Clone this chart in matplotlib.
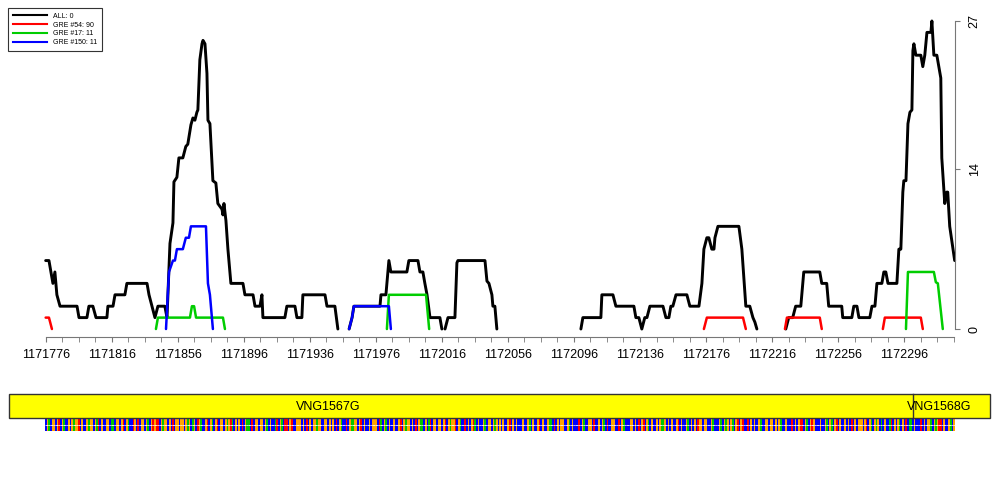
import numpy as np
import matplotlib
matplotlib.use('Agg')
import matplotlib.pyplot as plt
from matplotlib.colors import to_rgb
from matplotlib.lines import Line2D
from matplotlib.patches import Rectangle

plt.rcParams['font.family'] = ['Liberation Sans', 'DejaVu Sans']

# genomic window (bp)
START = 1171776
END = 1172326

# curves: segments of (offset from START, count)
all_pos = [
    [0, 2, 4.4, 5.6, 6.8, 8.7, 19, 20.2, 25, 26.2, 28.6, 30.5, 37.1, 37.7, 40.8, 42, 48, 49.2,
     61.4, 62.6, 64.4, 66.2, 68, 72.2, 73.5, 75.3, 77.1, 77.7, 79.5, 80.7, 83.1, 84.9, 86.1,
     88, 89.2, 90.4, 91.6, 92.2, 93.4, 94.7, 95.3, 96.5, 97.7, 98.3, 99.5, 101.3, 103.1, 104.3,
     106.8, 107.4, 108, 109.2, 110.4, 112.2, 119.5, 120.7, 125.6, 126.8, 129.8, 131, 131.6,
     144.9, 146.1, 151, 152.2, 155.2, 155.8, 169.2, 170.4, 175.2, 177],
    [183.8, 185.6, 186.7, 202.5, 203.1, 206.1, 207.3, 207.9, 209.1, 218.8, 220, 225.5, 226.7,
     228.5, 229.7, 231, 232.8, 238.8, 240],
    [241.9, 243.7, 247.9, 249.1, 249.7, 266.1, 267.3, 268.5, 270.3, 270.9, 272.1, 273.3],
    [324.2, 325.4, 336.3, 336.9, 343.6, 345.4, 356.3, 357.5, 359.3, 361.1, 362.9, 364.2, 366,
     373.9, 375.7, 377.5, 378.7, 379.9, 381.8, 388.4, 390.2, 395.7, 397.5, 398.7, 400.5, 401.7,
     403.5, 404.8, 405.4, 407.2, 419.9, 421.7, 424.1, 426.5, 428.4, 429.6, 430.8],
    [448.3, 450.1, 452.5, 454.3, 457.4, 459.2, 468.9, 470.1, 473.1, 474.3, 482.2, 482.8, 488.3,
     489.5, 491.4, 492.6, 499.2, 500.5, 502.3, 503.5, 506.5, 507.7, 508.9, 510.2, 515.6, 516.8,
     518, 519.2, 519.8, 521.1, 522.3, 523.5, 524.7, 525.3, 525.9, 527.1, 530.1, 531.3, 532.5,
     533.8, 536.2, 536.8, 538, 539.8, 542.2, 542.8, 544.6, 545.8, 546.4, 547.6, 550.6],
]
all_val = [
    [6, 6, 4, 5, 3, 2, 2, 1, 1, 2, 2, 1, 1, 2, 2, 3, 3, 4,
     4, 3, 2, 1, 2, 2, 1, 7.5, 9.3, 12.9, 13.3, 15, 15, 16, 16.2,
     17.9, 18.5, 18.3, 19, 19.2, 23.6, 25, 25.3, 25, 22.4, 18.3, 18, 13, 12.8, 11,
     10.5, 10, 11, 9.5, 7, 4, 4, 3, 3, 2, 2, 3, 1,
     1, 2, 2, 1, 1, 3, 3, 2, 2, 0],
    [0, 1, 2, 2, 3, 3, 5, 6, 5, 5, 6, 6, 5, 5, 4, 3, 1, 1, 0],
    [0, 1, 1, 5.8, 6, 6, 4.2, 4, 3, 2, 2, 0],
    [0, 1, 1, 3, 3, 2, 2, 1, 1, 0, 1, 1, 2,
     2, 1, 1, 2, 2, 3, 3, 2, 2, 4, 7, 8, 8,
     7, 7, 8, 9, 9, 7, 2, 2, 1, 0.6, 0],
    [0, 1, 1, 2, 2, 5, 5, 4, 4, 2, 2, 1, 1,
     2, 2, 1, 1, 2, 2, 4, 4, 5, 5, 4, 4, 7,
     7, 12, 13, 13, 18, 19, 19.2, 24.4, 25, 24, 24, 23, 24,
     26, 26, 27, 24, 24, 22, 15, 11, 12, 12, 9, 6],
]

gre54_pos = [[0, 2, 3.8], [398.7, 400.5, 422.4, 424.1], [447.8, 449, 468.9, 470.1],
             [507.1, 508.3, 530.1, 531.3]]
gre54_val = [[1, 1, 0], [0, 1, 1, 0], [0, 1, 1, 0], [0, 1, 1, 0]]

gre17_pos = [[66.8, 68, 87.4, 88.6, 89.9, 91.1, 107.4, 108.6],
             [206.7, 207.9, 230.4, 232.3],
             [521.1, 522.3, 523.5, 538, 539.2, 540.4, 543.4]]
gre17_val = [[0, 1, 1, 2, 2, 1, 1, 0], [0, 3, 3, 0], [0, 5, 5, 5, 4.1, 4, 0]]

gre150_pos = [[72.9, 74.7, 77.1, 78.3, 79.5, 83.1, 84.9, 86.8, 88, 97.1, 98.3, 99.5, 101.3],
              [183.8, 185.6, 186.7, 207.9, 209.1]]
gre150_val = [[0, 5, 6, 6, 7, 7, 8, 8, 9, 9, 4, 3, 0], [0, 1, 2, 2, 0]]

legend_labels = ['ALL: 0', 'GRE #54: 90', 'GRE #17: 11', 'GRE #150: 11']
y_ticks = [0, 14, 27]

# genes
gene_names = ['VNG1567G', 'VNG1568G']
gene_label_pos = [171, 541]
gene_boundary = 525.3

seq = ("CGACGGCGTCGACCGCGAGGTCGCCGAGGCGATCGCCGGCAACGGCGTCG"
       "ACCTGCTCGGCGACGTGTTCGAGGCGCTCGGCGGCGAGCAGCTGACCGTC"
       "GACGTCGGCGAGTACGCGCTCGAACTCGGCGGCGACGCCATCGACTTCGT"
       "CCGGGCGCTCGCGGAGGCCGGCGCGCTCGACCTCGAAGGCGTCGCCGCGG"
       "GCTACGACGCCGCCGTCGAGGCGCTCGAACGCATCGGCGGCGTCGAGGTC"
       "GACCTCGCGTACGCCGACGGCGAGCGCGCCGTCGCGCCCGCCGACGCCGT"
       "CGCCGAACTCGCGGCCGACGCCCTCGACCGGCTCCGCGACTCCGGCCTCG"
       "ACCCGGCGCTCGTCGACGCCGCGAAGCGCGCCGTCGCCGACGCGCTGGCG"
       "GCCGACCCGACGAGCGACGTCGTCCTCGCGCCGACCGGCGGCGCGACCGC"
       "CCTCGCGTTCGACGTGCCCGCCGACGACGTCGCCGCGCTCGCGGGCGTCG"
       "ACGAGCACGCCATCGCGACGCTCAACGCCCTCGCGGACGAGTTCGCCGAC"
       "G")
base_col = {'A': '#00C800', 'C': '#0000FF', 'G': '#FFA500', 'T': '#FF0000'}


def join(segs_pos, segs_val):
    xs, ys = [], []
    for p, v in zip(segs_pos, segs_val):
        xs += [START + q for q in p] + [np.nan]
        ys += list(v) + [np.nan]
    return xs, ys


fig = plt.figure(figsize=(10, 5), dpi=100)
ax = fig.add_axes([0.009, 0.318, 0.981, 0.664])
xlo, xhi = START - 22.2, START + 572
ax.set_xlim(xlo, xhi)
ax.set_ylim(-1.05, 28.05)

series = [(all_pos, all_val, 'black', 2.1),
          (gre54_pos, gre54_val, '#FF0000', 1.8),
          (gre17_pos, gre17_val, '#00CD00', 1.8),
          (gre150_pos, gre150_val, '#0000FF', 1.8)]
for p, v, c, lw in series:
    xs, ys = join(p, v)
    ax.plot(xs, ys, color=c, lw=lw, solid_joinstyle='round', solid_capstyle='round')

# axes
ax.spines['top'].set_visible(False)
ax.spines['left'].set_visible(False)
axis_col = '#777777'
ax.spines['bottom'].set_position(('data', -0.7))
ax.spines['bottom'].set_bounds(START, END)
ax.spines['bottom'].set_color(axis_col)
ax.spines['right'].set_position(('data', END + 1))
ax.spines['right'].set_bounds(0, 27)
ax.spines['right'].set_color(axis_col)

major = np.arange(START, END + 1, 40)
ax.set_xticks(major)
ax.set_xticklabels([str(t) for t in major])
ax.set_xticks(np.arange(START, END + 1, 10), minor=True)
ax.tick_params(axis='x', which='both', length=3.6, color=axis_col, pad=5, labelsize=9)
ax.yaxis.tick_right()
ax.set_yticks(y_ticks)
ax.set_yticklabels([str(t) for t in y_ticks], rotation=90, va='center')
ax.tick_params(axis='y', length=3.6, color=axis_col, pad=6, labelsize=9)

handles = [Line2D([], [], color=c, lw=1.5) for _, _, c, _ in series]
leg = ax.legend(handles, legend_labels, loc='upper left', bbox_to_anchor=(0.008, 0.984),
                bbox_transform=fig.transFigure, borderaxespad=0, fontsize=5,
                handlelength=4.9, handletextpad=0.9, labelspacing=0.25, borderpad=0.7,
                fancybox=False, framealpha=1)
leg.get_frame().set_edgecolor('#333333')
leg.get_frame().set_linewidth(0.8)

# gene track + sequence
ax2 = fig.add_axes([0.009, 0.12, 0.981, 0.11])
ax2.set_xlim(xlo, xhi)
ax2.set_ylim(440, 385)
ax2.axis('off')
ax2.add_patch(Rectangle((xlo, 394), xhi - xlo, 24, facecolor='#FFFF00',
                        edgecolor='#333333', lw=1, clip_on=False))
ax2.plot([START + gene_boundary] * 2, [394, 418], color='#333333', lw=1)
for name, pos in zip(gene_names, gene_label_pos):
    ax2.text(START + pos, 407, name, ha='center', va='center', fontsize=9)

n = len(seq)
strip = np.array([[to_rgb(base_col[b]) for b in seq]])
ax2.imshow(strip, extent=(START - 0.5, START + n - 0.5, 431, 418), aspect='auto',
           interpolation='nearest')
ax2.set_xlim(xlo, xhi)
ax2.set_ylim(440, 385)
bx = START + np.arange(n)
ax2.scatter(bx, np.full(n, 424.5), marker='_', s=1.2, c='white', linewidths=0.5)

fig.savefig('out.png', dpi=100)
